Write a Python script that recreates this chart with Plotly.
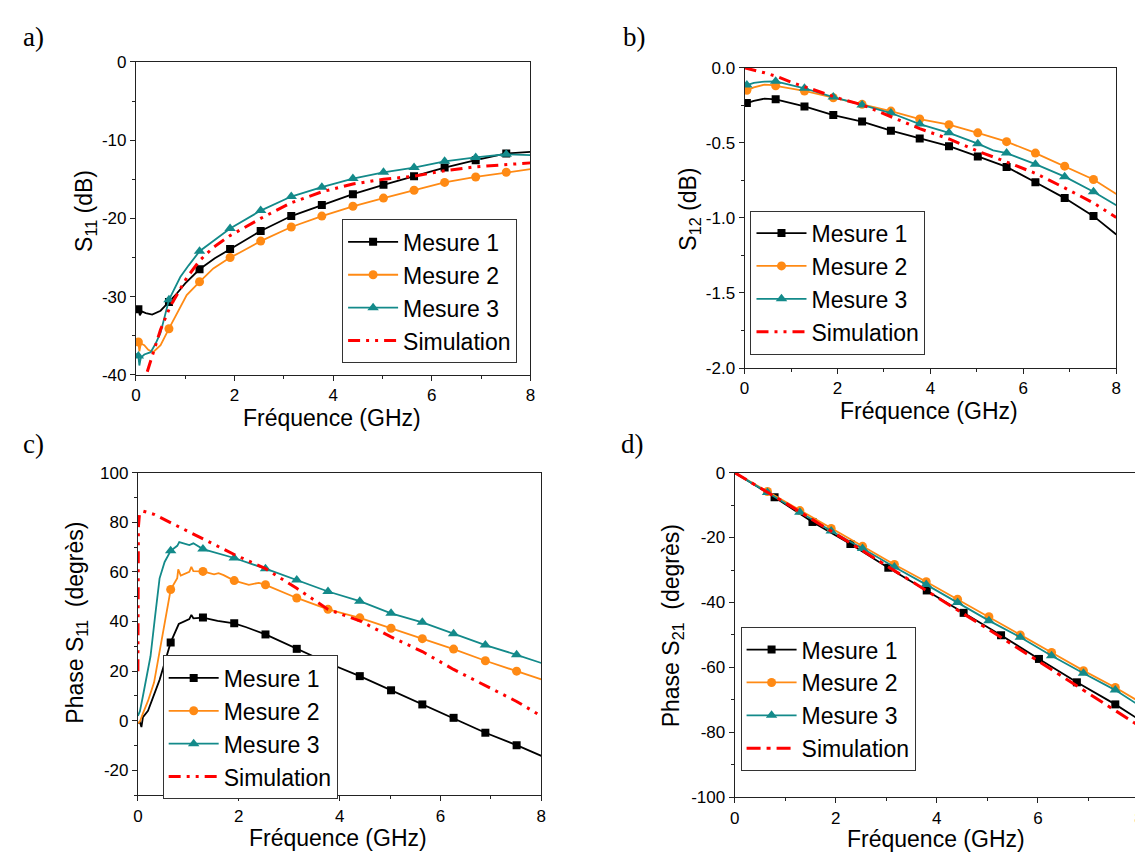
import plotly.graph_objects as go

W, H = 1143, 853

# ---------------- data ----------------
# a) S11 (dB)
a_m1_x = [0.0, 0.05, 0.08, 0.12, 0.2, 0.33, 0.5, 0.67, 0.83, 1.0, 1.29, 1.6, 1.91, 2.53, 3.15, 3.77, 4.40, 5.02, 5.64, 6.26, 6.89, 7.51, 8.0]
a_m1_y = [-31.4, -31.6, -32.4, -31.9, -32.1, -32.3, -31.8, -30.7, -29.6, -28.3, -26.5, -25.1, -23.9, -21.6, -19.7, -18.3, -16.9, -15.7, -14.6, -13.5, -12.55, -11.7, -11.5]
a_m2_x = [0.0, 0.05, 0.07, 0.1, 0.17, 0.25, 0.35, 0.5, 0.67, 0.83, 1.03, 1.29, 1.57, 1.91, 2.1, 2.53, 3.15, 3.77, 4.40, 5.02, 5.64, 6.26, 6.89, 7.51, 8.0]
a_m2_y = [-35.6, -35.8, -37.0, -36.0, -36.2, -36.8, -37.1, -36.2, -34.1, -32.1, -29.8, -28.1, -26.4, -25.0, -24.4, -22.9, -21.1, -19.7, -18.45, -17.4, -16.4, -15.4, -14.7, -14.1, -13.7]
a_m3_x = [0.0, 0.05, 0.07, 0.1, 0.17, 0.3, 0.4, 0.5, 0.67, 0.9, 1.07, 1.29, 1.91, 2.53, 3.15, 3.77, 4.40, 5.02, 5.64, 6.26, 6.89, 7.51, 8.0]
a_m3_y = [-37.3, -37.6, -38.8, -37.8, -37.4, -37.1, -36.0, -34.6, -30.4, -27.5, -26.0, -24.2, -21.3, -19.0, -17.2, -16.0, -14.9, -14.1, -13.5, -12.7, -12.2, -11.8, -11.9]
a_sim_x = [0.23, 0.37, 0.5, 0.7, 1.03, 1.29, 1.57, 1.91, 2.53, 3.15, 3.77, 4.40, 5.02, 5.64, 6.26, 6.89, 7.51, 8.0]
a_sim_y = [-39.6, -36.7, -34.2, -31.2, -27.6, -25.4, -23.7, -22.2, -20.0, -18.0, -16.6, -15.6, -15.0, -14.6, -13.9, -13.4, -13.1, -12.9]

# b) S12 (dB)
b_m1_x = [0.0, 0.05, 0.2, 0.43, 0.67, 1.29, 1.91, 2.53, 3.15, 3.77, 4.40, 5.02, 5.64, 6.26, 6.89, 7.51, 8.0]
b_m1_y = [-0.25, -0.235, -0.22, -0.205, -0.21, -0.257, -0.315, -0.358, -0.419, -0.47, -0.522, -0.59, -0.66, -0.762, -0.868, -0.988, -1.11]
b_m2_x = [0.0, 0.05, 0.2, 0.43, 0.6, 0.67, 1.29, 1.91, 2.53, 3.15, 3.77, 4.40, 5.02, 5.64, 6.26, 6.89, 7.51, 8.0]
b_m2_y = [-0.16, -0.15, -0.13, -0.112, -0.115, -0.12, -0.154, -0.199, -0.243, -0.288, -0.341, -0.379, -0.433, -0.492, -0.568, -0.655, -0.744, -0.84]
b_m3_x = [0.0, 0.05, 0.2, 0.43, 0.67, 1.29, 1.91, 2.53, 3.15, 3.77, 4.40, 5.02, 5.35, 5.64, 6.26, 6.89, 7.51, 8.0]
b_m3_y = [-0.12, -0.114, -0.10, -0.092, -0.09, -0.136, -0.195, -0.247, -0.301, -0.375, -0.433, -0.505, -0.55, -0.568, -0.642, -0.725, -0.825, -0.916]
b_sim_x = [0.0, 0.21, 0.43, 0.71, 1.06, 1.49, 1.99, 2.53, 3.12, 3.77, 4.40, 5.02, 5.64, 6.26, 6.89, 7.51, 8.0]
b_sim_y = [0.0, -0.015, -0.033, -0.059, -0.102, -0.146, -0.2, -0.246, -0.32, -0.405, -0.474, -0.555, -0.627, -0.703, -0.80, -0.9, -0.997]

# c) Phase S11 (degres)
c_m1_x = [0.0, 0.04, 0.07, 0.1, 0.2, 0.32, 0.43, 0.53, 0.65, 0.81, 1.02, 1.06, 1.1, 1.29, 1.58, 1.91, 2.15, 2.53, 3.15, 3.77, 4.40, 5.02, 5.64, 6.26, 6.89, 7.51, 8.0]
c_m1_y = [-1.0, -0.5, -2.5, 1.5, 4.0, 10.2, 16.5, 23.3, 31.6, 39.0, 41.0, 42.7, 41.3, 41.6, 40.3, 39.3, 37.7, 34.8, 29.0, 23.3, 18.0, 12.3, 6.6, 1.2, -4.8, -9.8, -14.1]
c_m2_x = [0.0, 0.04, 0.1, 0.2, 0.32, 0.43, 0.53, 0.65, 0.78, 0.8, 0.85, 1.02, 1.06, 1.1, 1.29, 1.51, 1.6, 1.7, 1.91, 2.2, 2.4, 2.53, 3.15, 3.77, 4.40, 5.02, 5.64, 6.26, 6.89, 7.51, 8.0]
c_m2_y = [-1.0, -0.3, 3.0, 8.0, 15.4, 28.0, 39.0, 52.9, 57.5, 61.0, 58.5, 60.0, 62.0, 60.3, 60.2, 59.0, 59.5, 58.7, 56.5, 54.8, 55.6, 54.8, 49.5, 44.9, 41.5, 37.3, 33.1, 28.9, 24.2, 20.0, 16.7]
c_m3_x = [0.0, 0.04, 0.1, 0.18, 0.25, 0.34, 0.43, 0.53, 0.65, 0.78, 0.82, 1.02, 1.1, 1.29, 1.91, 2.53, 3.15, 3.77, 4.40, 5.02, 5.64, 6.26, 6.89, 7.51, 8.0]
c_m3_y = [2.0, 3.9, 10.0, 18.0, 26.0, 42.0, 57.4, 64.0, 68.5, 70.5, 72.0, 70.8, 71.5, 69.2, 65.6, 61.3, 56.7, 52.1, 48.2, 43.3, 39.7, 35.1, 30.5, 26.6, 23.3]
c_sim_x = [0.0, 0.005, 0.01, 0.03, 0.1, 0.32, 1.02, 1.91, 2.53, 3.15, 3.77, 4.40, 5.02, 5.64, 6.26, 6.89, 7.51, 7.95]
c_sim_y = [20.0, 50.0, 78.0, 83.0, 84.5, 83.2, 76.0, 67.0, 61.3, 53.4, 44.9, 40.3, 33.8, 27.9, 20.7, 14.1, 7.8, 2.5]

# d) Phase S21 (degres)
d_m1_x = [0.0, 0.79, 1.54, 2.29, 3.04, 3.80, 4.53, 5.27, 6.02, 6.77, 7.53, 8.0]
d_m1_y = [0.0, -7.6, -15.2, -22.0, -29.3, -36.3, -43.2, -50.1, -57.4, -64.6, -71.4, -76.1]
d_m2_x = [0.0, 0.65, 1.29, 1.91, 2.53, 3.16, 3.79, 4.41, 5.03, 5.65, 6.27, 6.90, 7.53, 8.0]
d_m2_y = [0.0, -5.8, -11.7, -17.2, -22.7, -28.3, -33.6, -39.0, -44.4, -50.0, -55.4, -61.0, -66.2, -70.5]
d_m3_x = [0.0, 0.65, 1.29, 1.91, 2.53, 3.16, 3.79, 4.41, 5.03, 5.65, 6.27, 6.90, 7.53, 8.0]
d_m3_y = [0.0, -6.1, -12.2, -18.0, -23.4, -29.1, -34.5, -40.0, -45.6, -50.7, -56.4, -61.8, -67.0, -71.7]
d_sim_x = [0, 1, 2, 3, 4, 5, 6, 7, 8]
d_sim_y = [0.0, -9.3, -18.9, -28.6, -38.3, -48.1, -58.0, -67.9, -78.0]

# frequencies where the symbols sit
marks = [0.05, 0.65, 0.67, 1.29, 1.91, 2.53, 3.15, 3.16, 3.77, 3.79, 4.40, 4.41, 5.02, 5.03,
         5.64, 5.65, 6.26, 6.27, 6.89, 6.90, 7.51, 7.53]
marks_d1 = [0.79, 1.54, 2.29, 3.04, 3.80, 4.53, 5.27, 6.02, 6.77, 7.53]

names = ["Mesure 1", "Mesure 2", "Mesure 3", "Simulation"]
colors = ["#000000", "#FF8A14", "#138A8A", "#FF0000"]
symbols = ["square", "circle", "triangle-up"]
sizes = [8, 9, 10]

x_ticks = [0, 2, 4, 6, 8]
ya_ticks = [0, -10, -20, -30, -40]
yb_ticks = [0.0, -0.5, -1.0, -1.5, -2.0]
yc_ticks = [100, 80, 60, 40, 20, 0, -20]
yd_ticks = [0, -20, -40, -60, -80, -100]

SANS = "Liberation Sans, Arial, sans-serif"
SERIF = "Liberation Serif, Times New Roman, serif"


def fx(p):
    # pixel -> paper fraction
    return p / W


def fy(p):
    return 1 - p / H


fig = go.Figure()


def add_measure(k, i, x, y, mk, legend):
    xa = "x" if k == 1 else "x%d" % k
    ya = "y" if k == 1 else "y%d" % k
    fig.add_trace(go.Scatter(x=x, y=y, xaxis=xa, yaxis=ya, mode="lines",
                             line=dict(color=colors[i], width=1.8), showlegend=False,
                             hoverinfo="skip"))
    xm = [v for v in x if round(v, 2) in mk]
    ym = [y[j] for j, v in enumerate(x) if round(v, 2) in mk]
    fig.add_trace(go.Scatter(x=xm, y=ym, xaxis=xa, yaxis=ya, mode="markers",
                             marker=dict(color=colors[i], symbol=symbols[i], size=sizes[i]),
                             showlegend=False))
    # legend entry
    fig.add_trace(go.Scatter(x=[None], y=[None], xaxis=xa, yaxis=ya, mode="lines+markers",
                             name=names[i], legend=legend,
                             line=dict(color=colors[i], width=1.8),
                             marker=dict(color=colors[i], symbol=symbols[i], size=sizes[i])))


def add_sim(k, x, y, legend, dash):
    xa = "x" if k == 1 else "x%d" % k
    ya = "y" if k == 1 else "y%d" % k
    fig.add_trace(go.Scatter(x=x, y=y, xaxis=xa, yaxis=ya, mode="lines", name=names[3],
                             legend=legend, line=dict(color=colors[3], width=3, dash=dash)))


dashdotdot = "12px,6px,3px,6px,3px,6px"
dashdot = "14px,6px,4px,6px"

panels = [
    (1, [(a_m1_x, a_m1_y), (a_m2_x, a_m2_y), (a_m3_x, a_m3_y)], (a_sim_x, a_sim_y), "legend", dashdotdot),
    (2, [(b_m1_x, b_m1_y), (b_m2_x, b_m2_y), (b_m3_x, b_m3_y)], (b_sim_x, b_sim_y), "legend2", dashdotdot),
    (3, [(c_m1_x, c_m1_y), (c_m2_x, c_m2_y), (c_m3_x, c_m3_y)], (c_sim_x, c_sim_y), "legend3", dashdotdot),
    (4, [(d_m1_x, d_m1_y), (d_m2_x, d_m2_y), (d_m3_x, d_m3_y)], (d_sim_x, d_sim_y), "legend4", dashdot),
]
for k, meas, sim, leg, dash in panels:
    for i, (x, y) in enumerate(meas):
        mk = marks_d1 if (k == 4 and i == 0) else marks
        add_measure(k, i, x, y, mk, leg)
    add_sim(k, sim[0], sim[1], leg, dash)

# ---------------- axes ----------------
boxes = {  # plot area in pixels: x0, x1, ytop, ybottom
    1: (124, 522, 46, 366),
    2: (738, 1113, 52, 359),
    3: (126, 533, 466, 796),
    4: (728, 1136, 466, 798),
}
yspecs = {
    1: ([-40, 0], ya_ticks, ["0", "-10", "-20", "-30", "-40"], 5),
    2: ([-2, 0], yb_ticks, ["0.0", "-0.5", "-1.0", "-1.5", "-2.0"], 0.25),
    3: ([-30, 100], yc_ticks, ["100", "80", "60", "40", "20", "0", "-20"], 10),
    4: ([-100, 0], yd_ticks, ["0", "-20", "-40", "-60", "-80", "-100"], 10),
}
tickfont = dict(family=SANS, size=17, color="black")
for k, (x0, x1, yt, yb) in boxes.items():
    sx = "" if k == 1 else str(k)
    rng, tv, tt, mdt = yspecs[k]
    common = dict(showline=True, linecolor="#222", linewidth=1, mirror=True,
                  ticks="outside", ticklen=5, tickwidth=1, tickcolor="#222",
                  showgrid=False, zeroline=False, tickfont=tickfont)
    fig.update_layout({
        "xaxis" + sx: dict(domain=[fx(x0), fx(x1)], anchor="y" + sx, range=[0, 8],
                           tickvals=x_ticks, ticktext=[str(v) for v in x_ticks],
                           minor=dict(ticks="outside", ticklen=3, tickmode="linear", tick0=0, dtick=1,
                                      tickcolor="#222"),
                           **common),
        "yaxis" + sx: dict(domain=[fy(yb), fy(yt)], anchor="x" + sx, range=rng,
                           tickvals=tv, ticktext=tt,
                           minor=dict(ticks="outside", ticklen=3, tickmode="linear", tick0=0, dtick=mdt,
                                      tickcolor="#222"),
                           **common),
    })

# ---------------- legends ----------------
legfont = dict(family=SANS, size=23, color="black")
legpos = {"legend": (332, 207), "legend2": (744, 198), "legend3": (151, 653), "legend4": (734, 624)}
for key, (lx, ly) in legpos.items():
    fig.update_layout({key: dict(x=fx(lx), y=fy(ly), xanchor="left", yanchor="top",
                                 bgcolor="white", bordercolor="#333", borderwidth=1,
                                 font=legfont, tracegroupgap=0, itemwidth=50)})

# ---------------- titles and panel letters ----------------
titlefont = dict(family=SANS, size=23, color="black")
annots = [
    ("S<sub>11</sub> (dB)", 73, 198, -90),
    ("S<sub>12</sub> (dB)", 683, 197, -90),
    ("Phase S<sub>11</sub>\u00a0 (degrès)", 64, 619, -90),
    ("Phase S<sub>21</sub>\u00a0 (degrès)", 665, 623, -90),
    ("Fréquence (GHz)", 322, 410, 0),
    ("Fréquence (GHz)", 924, 403, 0),
    ("Fréquence (GHz)", 328, 840, 0),
    ("Fréquence (GHz)", 931, 841, 0),
]
for text, ax_, ay_, ang in annots:
    fig.add_annotation(text=text, x=fx(ax_), y=fy(ay_), xref="paper", yref="paper",
                       showarrow=False, textangle=ang, font=titlefont,
                       xanchor="center", yanchor="middle")

letters = [("a)", 8, 20), ("b)", 613, 20), ("c)", 8, 437), ("d)", 611, 437)]
for text, lx, ly in letters:
    fig.add_annotation(text=text, x=fx(lx), y=fy(ly), xref="paper", yref="paper",
                       showarrow=False, xanchor="left", yanchor="middle",
                       font=dict(family=SERIF, size=27, color="black"))

fig.update_layout(width=W, height=H, margin=dict(l=0, r=0, t=0, b=0),
                  paper_bgcolor="white", plot_bgcolor="white")

fig.write_html("out.html")
